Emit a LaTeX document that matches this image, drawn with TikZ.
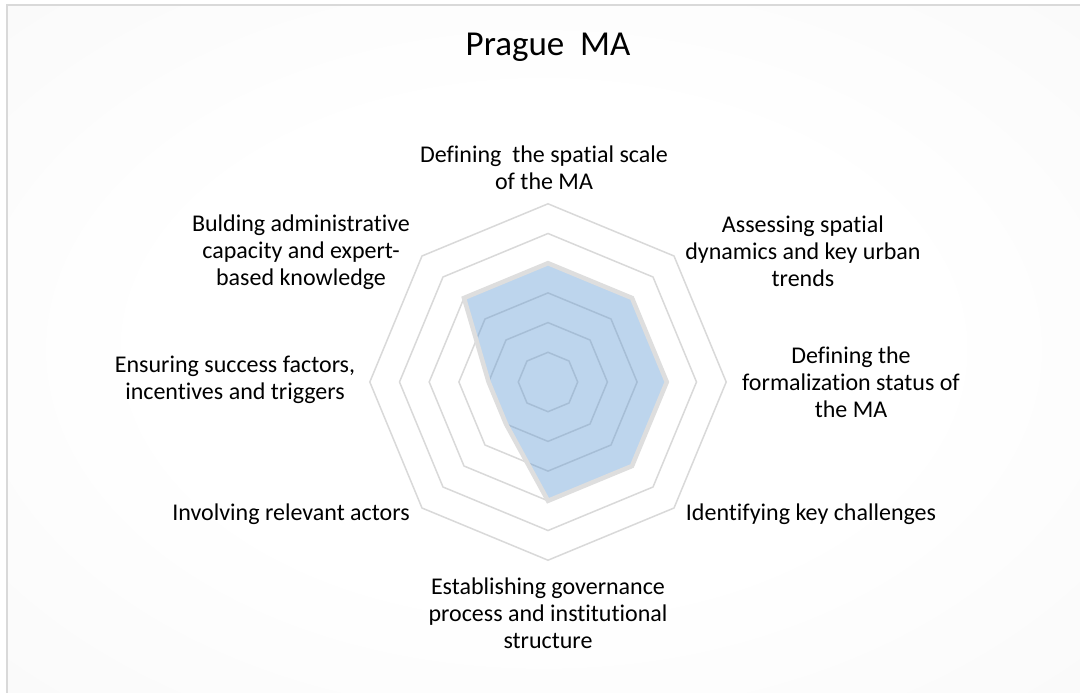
\documentclass[tikz,border=0pt]{standalone}
\usepackage{fontspec}
\setmainfont{Carlito}[Ligatures={NoCommon}, RawFeature={-liga;-clig;-dlig}]
\definecolor{gridgray}{RGB}{217,217,217}
\definecolor{bordergray}{RGB}{222,222,222}
\definecolor{framegray}{RGB}{217,217,217}
\definecolor{bggray}{RGB}{240,240,240}
\definecolor{seriesblue}{RGB}{91,150,210}
\pgfdeclareradialshading{bgshade}{\pgfpoint{0bp}{0bp}}{color(0bp)=(white); color(18bp)=(white); color(70bp)=(bggray)}
\begin{document}
\begin{tikzpicture}[x=1pt,y=-1pt,
  ring/.style={draw=gridgray, line width=1.5pt, line join=miter},
  series/.style={fill=seriesblue, fill opacity=0.4, draw=bordergray, draw opacity=1, line width=4.5pt, line join=miter},
  lbl/.style={font=\fontsize{24}{27}\selectfont, align=center, inner sep=0pt, text=black},
  ttl/.style={font=\fontsize{35}{40}\selectfont, inner sep=0pt, text=black},
]
\useasboundingbox (0,0) rectangle (1080,693);
\fill[white] (0,0) rectangle (1080,693);
\shade[shading=bgshade] (7,5) rectangle (1080,693);
\draw[framegray, line width=2pt] (7,693) -- (7,5) -- (1080,5);

\begin{scope}[shift={(548,382)}]
  \foreach \k in {1,...,6}{
    \draw[ring] (-90:{29.7*\k}) -- (-45:{29.7*\k}) -- (0:{29.7*\k}) -- (45:{29.7*\k})
      -- (90:{29.7*\k}) -- (135:{29.7*\k}) -- (180:{29.7*\k}) -- (225:{29.7*\k}) -- cycle;
  }
  \coordinate (d0) at (-90:118.8);
  \coordinate (d1) at (-45:118.8);
  \coordinate (d2) at (0:118.8);
  \coordinate (d3) at (45:118.8);
  \coordinate (d4) at (90:118.8);
  \coordinate (d5) at (135:59.4);
  \coordinate (d6) at (180:59.4);
  \coordinate (d7) at (225:118.8);
  \filldraw[series] (d0) -- (d1) -- (d2) -- (d3) -- (d4) -- (d5) -- (d6) -- (d7) -- cycle;
\end{scope}

\node[ttl] (title) at (548,47) {Prague\ \ MA};
\node[lbl] (l0) at (544,167.5) {Defining\ \ the spatial scale\\of the MA};
\node[lbl] (l1) at (803,251) {Assessing spatial\\dynamics and key urban\\trends};
\node[lbl] (l2) at (851,382) {Defining the\\formalization status of\\the MA};
\node[lbl] (l3) at (811,514) {Identifying key challenges};
\node[lbl] (l4) at (548,613) {Establishing governance\\process and institutional\\structure};
\node[lbl] (l5) at (291,514) {Involving relevant actors};
\node[lbl] (l6) at (235,379.5) {Ensuring success factors,\\incentives and triggers};
\node[lbl] (l7) at (301,252) {Bulding administrative\\capacity and expert-\\based knowledge};
\end{tikzpicture}
\end{document}
